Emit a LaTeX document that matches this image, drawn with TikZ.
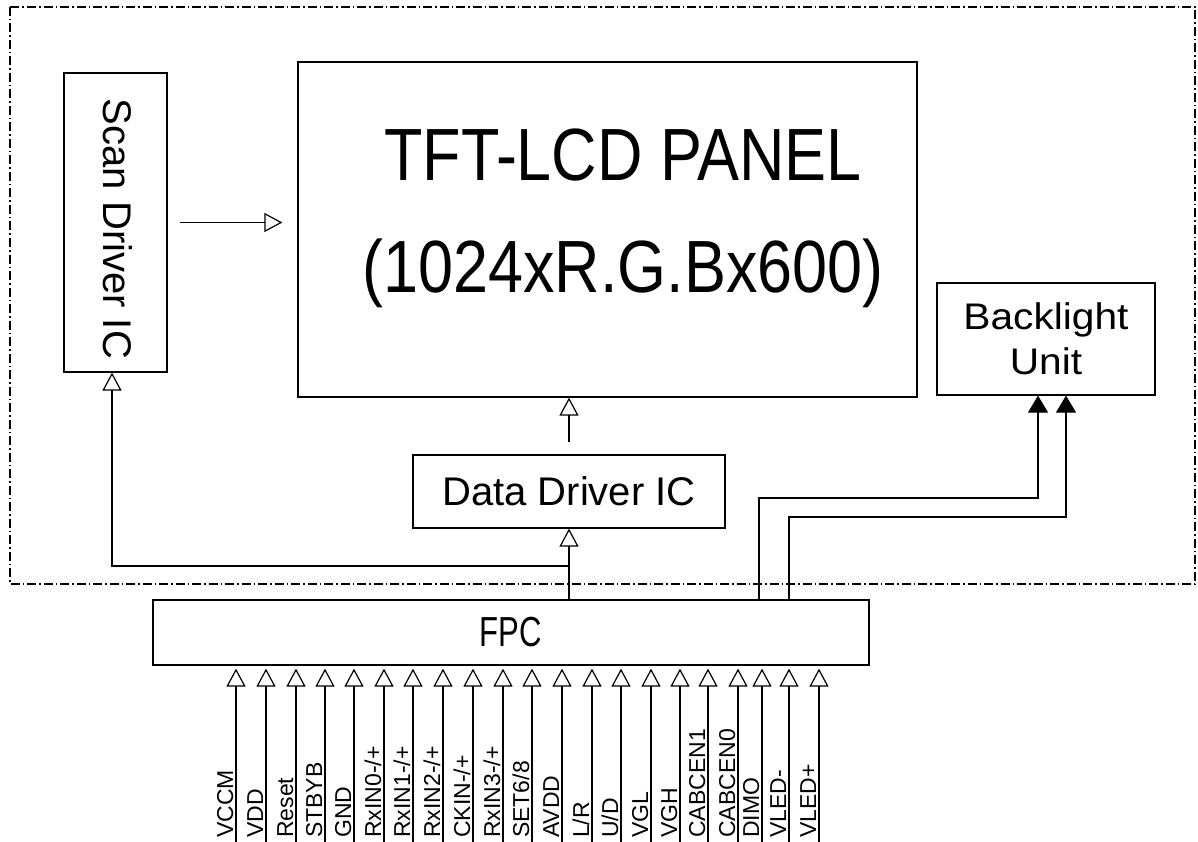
\documentclass[tikz,border=0pt]{standalone}
\usepackage{fontspec}
\setmainfont{Liberation Sans}
\usetikzlibrary{arrows.meta,positioning,calc}
\tikzset{
  blk/.style    = {draw, line width=1.2pt, inner sep=0pt},
  big/.style    = {inner sep=0pt, anchor=base, font=\fontsize{74}{80}\selectfont},
  pinlab/.style = {inner sep=0pt, anchor=base west, rotate=90,
                   font=\fontsize{23}{23}\selectfont},
  sig/.style    = {-{Triangle[open, length=18pt, width=19pt, line width=1.2pt]},
                   line width=1.2pt},
  pwr/.style    = {-{Triangle[length=17pt, width=20pt]}, line width=1.2pt},
  frame/.style  = {line width=1.1pt, dash pattern=on 9pt off 3pt on 1.5pt off 3pt}
}

\begin{document}
\begin{tikzpicture}[x=1pt,y=-1pt]
  \useasboundingbox (0,0) rectangle (1198,842);

  % ---- module outline ----
  \draw[frame] (10,7) rectangle (1195,584);

  % ---- blocks ----
  \node[blk, minimum width=103pt, minimum height=299pt] (scan) at (115.5,222.5) {};
  \node[rotate=-90, inner sep=0pt, font=\fontsize{40}{40}\selectfont] (scantxt)
    at (117.5,229) {Scan Driver IC};
  \node[blk, minimum width=619pt, minimum height=335pt] (panel) at (607.5,229.5) {};
  \node[big] (title) at (623,181) {\scalebox{0.85}[1]{TFT-LCD PANEL}};
  \node[big] (res) at (623,292) {\scalebox{0.85}[1]{(1024xR.G.Bx600)}};
  \node[blk, minimum width=312pt, minimum height=73pt,
        font=\fontsize{40}{40}\selectfont] (ddrv) at (569,491.5) {Data Driver IC};
  \node[blk, minimum width=218pt, minimum height=112pt, align=center,
        font=\fontsize{37}{45}\selectfont] (bl) at (1046,339)
    {\scalebox{1.1}[1]{Backlight}\\\scalebox{1.1}[1]{Unit}};
  \node[blk, minimum width=716pt, minimum height=65pt,
        font=\fontsize{42}{42}\selectfont] (fpc) at (511,632.5) {\scalebox{0.74}[1]{FPC}};

  % ---- signal paths ----
  \draw[sig] ([xshift=12pt]scan.east) -- ([xshift=-15pt]scan.east -| panel.west);
  \draw[sig] ([yshift=12pt]ddrv.north) -- (ddrv.north |- panel.south);
  \draw[sig] (fpc.north -| ddrv.south) -- (ddrv.south);
  \coordinate (split) at (569,566);
  \draw[sig] (split) -| ([xshift=-3.5pt]scan.south);

  % ---- LED supply ----
  \coordinate (ledm) at (759,600);
  \coordinate (ledp) at (789,600);
  \coordinate (bendm) at (1038,498);
  \coordinate (bendp) at (1066,517);
  \draw[pwr] (ledm) |- (bendm) -- (bendm |- bl.south);
  \draw[pwr] (ledp) |- (bendp) -- (bendp |- bl.south);

  % ---- connector pins ----
  \foreach \x/\lab [count=\i] in {236/VCCM, 266/VDD, 296/Reset, 325/STBYB, 354/GND,
      384/{RxIN0-/+}, 413/{RxIN1-/+}, 443/{RxIN2-/+}, 473/{CKIN-/+}, 503/{RxIN3-/+},
      532/{SET6/8}, 562/AVDD, 592/{L/R}, 621/{U/D}, 651/VGL, 680/VGH, 708/CABCEN1,
      738/CABCEN0, 762/DIMO, 789/VLED-, 819/VLED+} {
    \coordinate (pin\i) at (\x,842);
    \draw[sig, shorten >=3pt] (pin\i) -- (pin\i |- fpc.south);
    \node[pinlab] (lab\i) at (\x-3,838) {\lab};
  }
\end{tikzpicture}
\end{document}
